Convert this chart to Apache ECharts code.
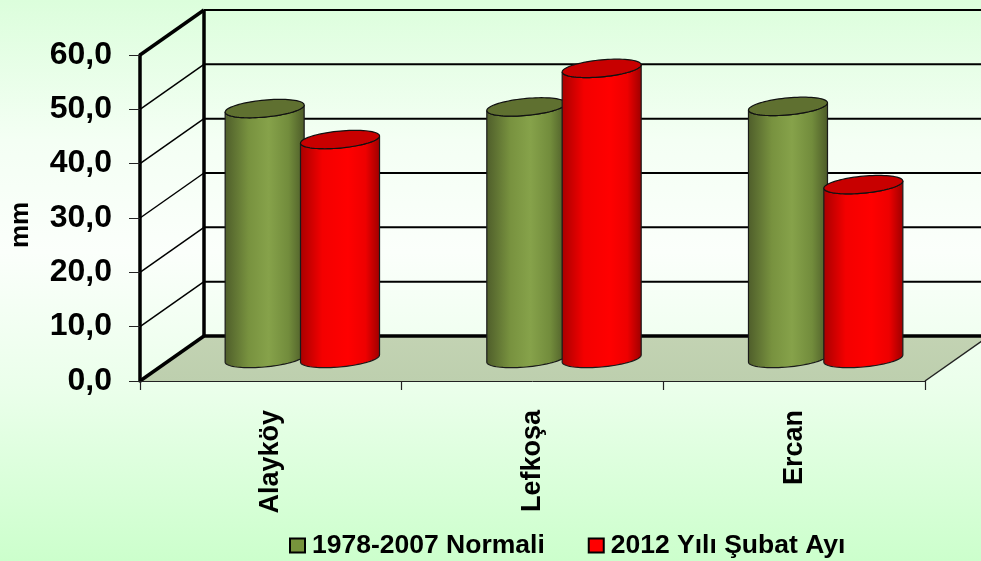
<!DOCTYPE html>
<html>
<head>
<meta charset="utf-8">
<style>html,body{margin:0;padding:0;width:981px;height:561px;overflow:hidden}#c{width:981px;height:561px}</style>
<script src="https://cdn.jsdelivr.net/npm/echarts@6/dist/echarts.min.js"></script>
</head>
<body>
<div id="c"></div>
<script>
const categories = ['Alayköy', 'Lefkoşa', 'Ercan'];
const normalName = '1978-2007 Normali';
const febName = '2012 Yılı Şubat Ayı';
const normalValues = [46.0, 46.3, 46.4];
const febValues = [40.3, 53.4, 32.0];
const gridValues = [0, 10, 20, 30, 40, 50, 60];

// projection of the pseudo-3D box
const depthX = 64, depthY = -45;
const font = '"Liberation Sans", Arial, sans-serif';

function ellipsePts(cx, cy, rx, ry, slope, from, to, n) {
  const pts = [];
  for (let k = 0; k <= n; k++) {
    const t = from + (to - from) * k / n;
    pts.push([cx + rx * Math.cos(t), cy - slope * rx * Math.cos(t) + ry * Math.sin(t)]);
  }
  return pts;
}

function cylinder(side, stops, topColor) {
  return function (params, api) {
    const i = api.value(0), v = api.value(1);
    const top = api.coord([i, v]), base = api.coord([i, 0]);
    const band = api.size([1, 0])[0];
    const step = band * 0.288, rx = band * 0.151, ry = 8.5, slope = 0.09;
    const cx = top[0] + depthX / 2 + side * step / 2 - 0.5;
    const cyTop = top[1] + depthY / 2, cyBase = base[1] + depthY / 2;
    const front = ellipsePts(cx, cyBase, rx, ry, slope, 0, Math.PI, 40);
    const topFront = ellipsePts(cx, cyTop, rx, ry, slope, Math.PI, 0, 40);
    const ell = ellipsePts(cx, cyTop, rx, ry, slope, 0, Math.PI * 2, 80);
    return {
      type: 'group',
      children: [
        {
          type: 'polygon',
          shape: { points: front.concat(topFront) },
          style: {
            fill: { type: 'linear', x: 0, y: 0, x2: 1, y2: 0, colorStops: stops },
            stroke: '#1a1a1a', lineWidth: 1.2
          }
        },
        {
          type: 'polygon',
          shape: { points: ell },
          style: { fill: topColor, stroke: '#111', lineWidth: 1.2 }
        }
      ]
    };
  };
}

function frameItem(params, api) {
  const v = api.value(0);
  const band = api.size([1, 0])[0];
  const p0 = api.coord([0, v]);
  const left = p0[0] - band / 2;
  const right = api.coord([categories.length - 1, v])[0] + band / 2;
  const y = p0[1];
  const children = [];
  const line = (x1, y1, x2, y2, w, c) => ({
    type: 'line', shape: { x1, y1, x2, y2 },
    style: { stroke: c || '#000', lineWidth: w }
  });
  if (v === gridValues[0]) {
    children.push({
      type: 'polygon',
      shape: { points: [[left, y], [left + depthX, y + depthY], [right + depthX, y + depthY], [right, y]] },
      style: {
        fill: { type: 'linear', x: 0, y: 0, x2: 0, y2: 1,
          colorStops: [{ offset: 0, color: '#c3d3b3' }, { offset: 1, color: '#bdcfae' }] }
      }
    });
    children.push(line(right, y, right + depthX, y + depthY, 1.5, '#222'));
    children.push(line(left + depthX, y + depthY, left + depthX, api.coord([0, gridValues[gridValues.length - 1]])[1] + depthY, 3.5));
  }
  const edge = v === gridValues[0] || v === gridValues[gridValues.length - 1];
  children.push(line(left, y, left + depthX, y + depthY, edge ? 3.5 : 1.5));
  children.push(line(left + depthX, y + depthY, right + depthX, y + depthY, v === gridValues[0] ? 3.5 : 2));
  return { type: 'group', children };
}

const chart = echarts.init(document.getElementById('c'), null, { renderer: 'canvas' });
chart.setOption({
  animation: false,
  backgroundColor: {
    type: 'linear', x: 0, y: 0, x2: 0, y2: 1,
    colorStops: [
      { offset: 0, color: '#dcfedc' },
      { offset: 0.25, color: '#f4fff4' },
      { offset: 0.45, color: '#fbfffb' },
      { offset: 0.7, color: '#eaffea' },
      { offset: 1, color: '#ccffcc' }
    ]
  },
  grid: { left: 140, top: 55, width: 785, height: 326, containLabel: false, outerBoundsMode: 'none' },
  legend: {
    left: 284, top: 527,
    itemWidth: 15, itemHeight: 14, itemGap: 43,
    icon: 'rect',
    data: [normalName, febName],
    itemStyle: { borderColor: '#000', borderWidth: 2 },
    textStyle: { fontFamily: font, fontWeight: 'bold', fontSize: 26.5, color: '#000', padding: [0, 0, 0, 2] }
  },
  xAxis: {
    type: 'category', data: categories, z: 5,
    axisLine: { lineStyle: { color: '#222', width: 1 } },
    axisTick: { show: true, alignWithLabel: false, length: 9, lineStyle: { color: '#222', width: 1.2 } },
    axisLabel: {
      rotate: 90, margin: 29, interval: 0, color: '#000', padding: [6, 0, 0, 0],
      fontFamily: font, fontWeight: 'bold', fontSize: 27
    },
    splitLine: { show: false }
  },
  yAxis: {
    type: 'value', min: 0, max: 60, interval: 10, z: 5,
    name: 'mm', nameLocation: 'middle', nameGap: 106, nameRotate: 90,
    nameTextStyle: { fontFamily: font, fontWeight: 'bold', fontSize: 26, color: '#000', padding: [0, 0, 0, -14] },
    axisLine: { show: true, lineStyle: { color: '#000', width: 3.5 } },
    axisTick: { show: true, length: 11, lineStyle: { color: '#222', width: 1 } },
    axisLabel: {
      margin: 28, color: '#000', padding: [8, 0, 0, 0],
      fontFamily: font, fontWeight: 'bold', fontSize: 32,
      formatter: v => v.toFixed(1).replace('.', ',')
    },
    splitLine: { show: false }
  },
  series: [
    {
      type: 'custom', name: 'frame', silent: true, clip: false, z: 1,
      coordinateSystem: 'cartesian2d',
      data: gridValues.map(v => [v]),
      encode: { y: 0 },
      renderItem: frameItem
    },
    {
      type: 'custom', name: normalName, silent: true, clip: false, z: 2,
      itemStyle: { color: '#77933c' },
      data: normalValues.map((v, i) => [i, v]),
      encode: { x: 0, y: 1 },
      renderItem: cylinder(-1, [
        { offset: 0, color: '#4e5d2a' },
        { offset: 0.3, color: '#78923f' },
        { offset: 0.55, color: '#86a24a' },
        { offset: 0.8, color: '#728c3c' },
        { offset: 1, color: '#4c5a28' }
      ], '#5f7030')
    },
    {
      type: 'custom', name: febName, silent: true, clip: false, z: 3,
      itemStyle: { color: '#ff0000' },
      data: febValues.map((v, i) => [i, v]),
      encode: { x: 0, y: 1 },
      renderItem: cylinder(1, [
        { offset: 0, color: '#a80000' },
        { offset: 0.28, color: '#f40000' },
        { offset: 0.6, color: '#ff0000' },
        { offset: 0.82, color: '#ee0000' },
        { offset: 1, color: '#9c0000' }
      ], '#c80000')
    }
  ]
});
</script>
</body>
</html>
